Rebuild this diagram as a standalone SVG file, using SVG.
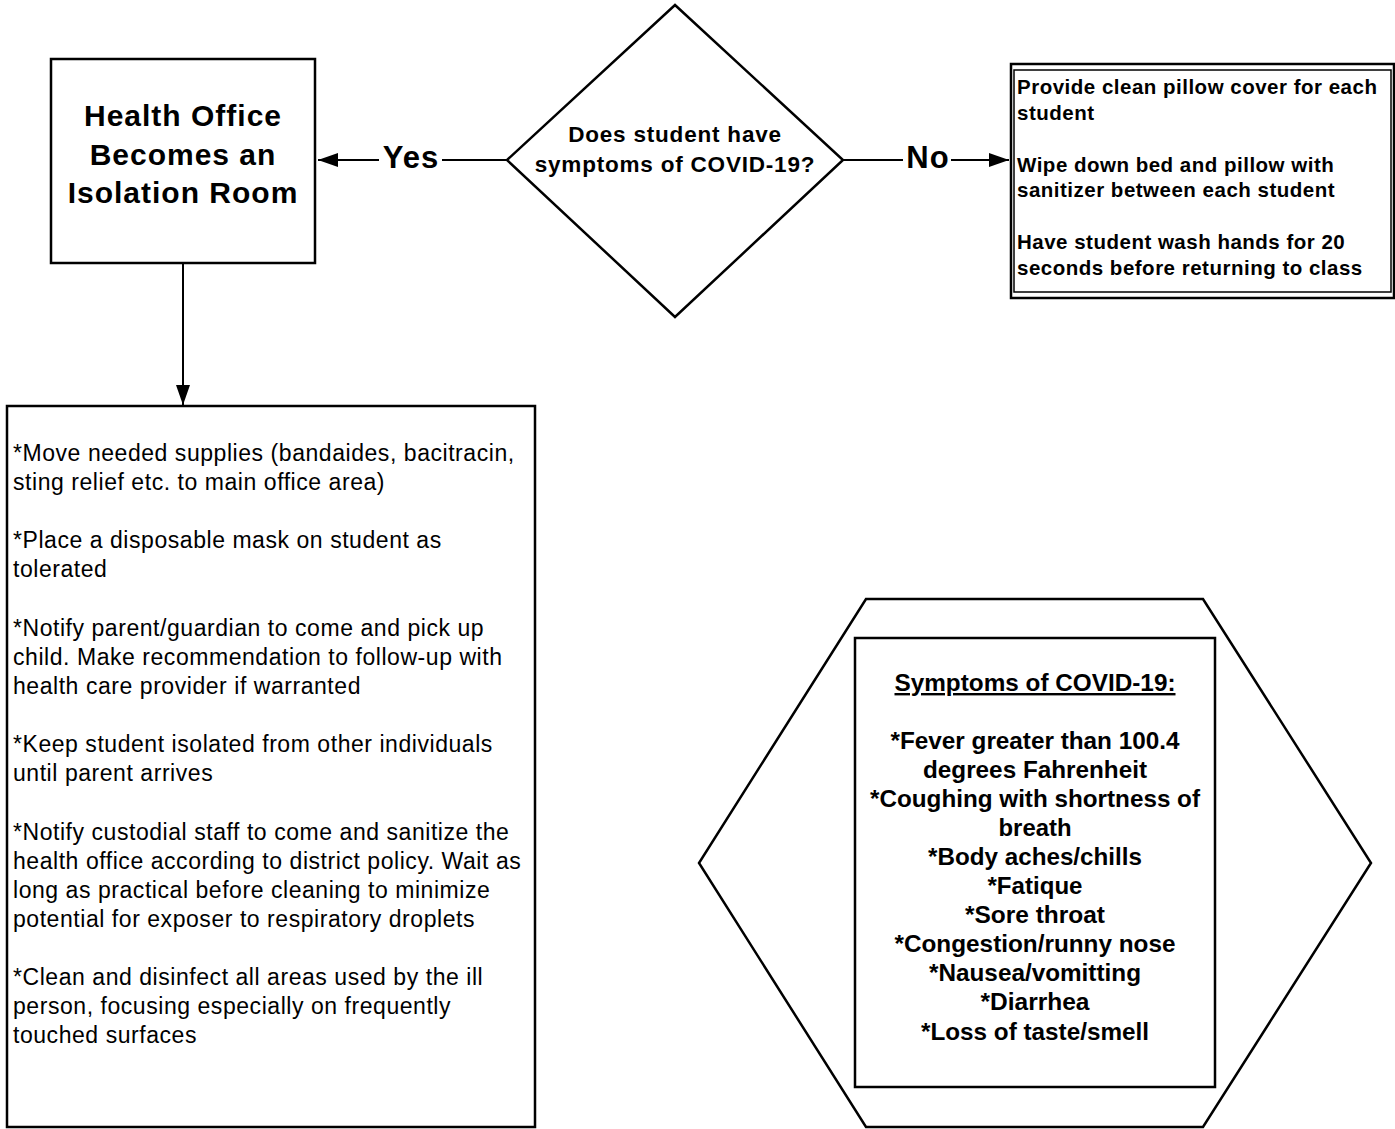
<svg xmlns="http://www.w3.org/2000/svg" width="1395" height="1129" viewBox="0 0 1395 1129">
<style>
.s{fill:#fff;stroke:#000;stroke-width:2.5}
.c{fill:none;stroke:#000;stroke-width:2}
.t{font-family:"Liberation Sans",Arial,sans-serif;fill:#000}
.b{font-weight:bold}
.ls{letter-spacing:1px}
</style>
<defs>
<marker id="ah" markerUnits="userSpaceOnUse" markerWidth="22" markerHeight="14" refX="20" refY="7" orient="auto">
<path d="M0,0 L20,7 L0,14 Z" fill="#000"/>
</marker>
</defs>
<rect width="1395" height="1129" fill="#fff"/>
<g id="connectors">
<line class="c" x1="507" y1="160" x2="442" y2="160"/>
<line class="c" x1="379" y1="160" x2="318" y2="160" marker-end="url(#ah)"/>
<text class="t b ls" x="411" y="168" font-size="31" text-anchor="middle">Yes</text>
<line class="c" x1="843" y1="160" x2="903" y2="160"/>
<line class="c" x1="951" y1="160" x2="1009" y2="160" marker-end="url(#ah)"/>
<text class="t b ls" x="928" y="168" font-size="31" text-anchor="middle">No</text>
<line class="c" x1="183" y1="263" x2="183" y2="405" marker-end="url(#ah)"/>
</g>
<g id="decision">
<polygon class="s" points="675,5 843,160 675,317 507,160"/>
<text class="t b" font-size="22.5" letter-spacing="0.8" text-anchor="middle"><tspan x="675" y="142">Does student have</tspan><tspan x="675" y="172">symptoms of COVID-19?</tspan></text>
</g>
<g id="health-office">
<rect class="s" x="51" y="59" width="264" height="204"/>
<text class="t b ls" font-size="30" text-anchor="middle"><tspan x="183" y="126">Health Office</tspan><tspan x="183" y="165">Becomes an</tspan><tspan x="183" y="203">Isolation Room</tspan></text>
</g>
<g id="no-actions">
<rect class="s" x="1011" y="64" width="383" height="234"/>
<rect x="1014" y="70" width="377" height="222" fill="none" stroke="#000" stroke-width="1.5"/>
<text class="t b" font-size="20.5" letter-spacing="0.5"><tspan x="1017" y="94">Provide clean pillow cover for each</tspan><tspan x="1017" y="120">student</tspan><tspan x="1017" y="172">Wipe down bed and pillow with</tspan><tspan x="1017" y="197">sanitizer between each student</tspan><tspan x="1017" y="249">Have student wash hands for 20</tspan><tspan x="1017" y="275">seconds before returning to class</tspan></text>
</g>
<g id="isolation-steps">
<rect class="s" x="7" y="406" width="528" height="721"/>
<text class="t" font-size="23" letter-spacing="0.55"><tspan x="13" y="461">*Move needed supplies (bandaides, bacitracin,</tspan><tspan x="13" y="490">sting relief etc. to main office area)</tspan><tspan x="13" y="548">*Place a disposable mask on student as</tspan><tspan x="13" y="577">tolerated</tspan><tspan x="13" y="636">*Notify parent/guardian to come and pick up</tspan><tspan x="13" y="665">child. Make recommendation to follow-up with</tspan><tspan x="13" y="694">health care provider if warranted</tspan><tspan x="13" y="752">*Keep student isolated from other individuals</tspan><tspan x="13" y="781">until parent arrives</tspan><tspan x="13" y="840">*Notify custodial staff to come and sanitize the</tspan><tspan x="13" y="869">health office according to district policy. Wait as</tspan><tspan x="13" y="898">long as practical before cleaning to minimize</tspan><tspan x="13" y="927">potential for exposer to respiratory droplets</tspan><tspan x="13" y="985">*Clean and disinfect all areas used by the ill</tspan><tspan x="13" y="1014">person, focusing especially on frequently</tspan><tspan x="13" y="1043">touched surfaces</tspan></text>
</g>
<g id="symptoms">
<polygon class="s" points="866,599 1203,599 1371,863 1203,1127 866,1127 699,863"/>
<rect class="s" x="855" y="638" width="360" height="449"/>
<g class="t b" font-size="24" text-anchor="middle">
<text x="1035" y="691" textLength="281" lengthAdjust="spacingAndGlyphs" text-decoration="underline">Symptoms of COVID-19:</text>
<text x="1035" y="749" textLength="289" lengthAdjust="spacingAndGlyphs">*Fever greater than 100.4</text>
<text x="1035" y="778" textLength="224" lengthAdjust="spacingAndGlyphs">degrees Fahrenheit</text>
<text x="1035" y="807" textLength="330" lengthAdjust="spacingAndGlyphs">*Coughing with shortness of</text>
<text x="1035" y="836" textLength="73" lengthAdjust="spacingAndGlyphs">breath</text>
<text x="1035" y="865" textLength="214" lengthAdjust="spacingAndGlyphs">*Body aches/chills</text>
<text x="1035" y="894" textLength="95" lengthAdjust="spacingAndGlyphs">*Fatique</text>
<text x="1035" y="923" textLength="140" lengthAdjust="spacingAndGlyphs">*Sore throat</text>
<text x="1035" y="952" textLength="281" lengthAdjust="spacingAndGlyphs">*Congestion/runny nose</text>
<text x="1035" y="981" textLength="212" lengthAdjust="spacingAndGlyphs">*Nausea/vomitting</text>
<text x="1035" y="1010" textLength="109" lengthAdjust="spacingAndGlyphs">*Diarrhea</text>
<text x="1035" y="1040" textLength="228" lengthAdjust="spacingAndGlyphs">*Loss of taste/smell</text>
</g>
</g>
</svg>
